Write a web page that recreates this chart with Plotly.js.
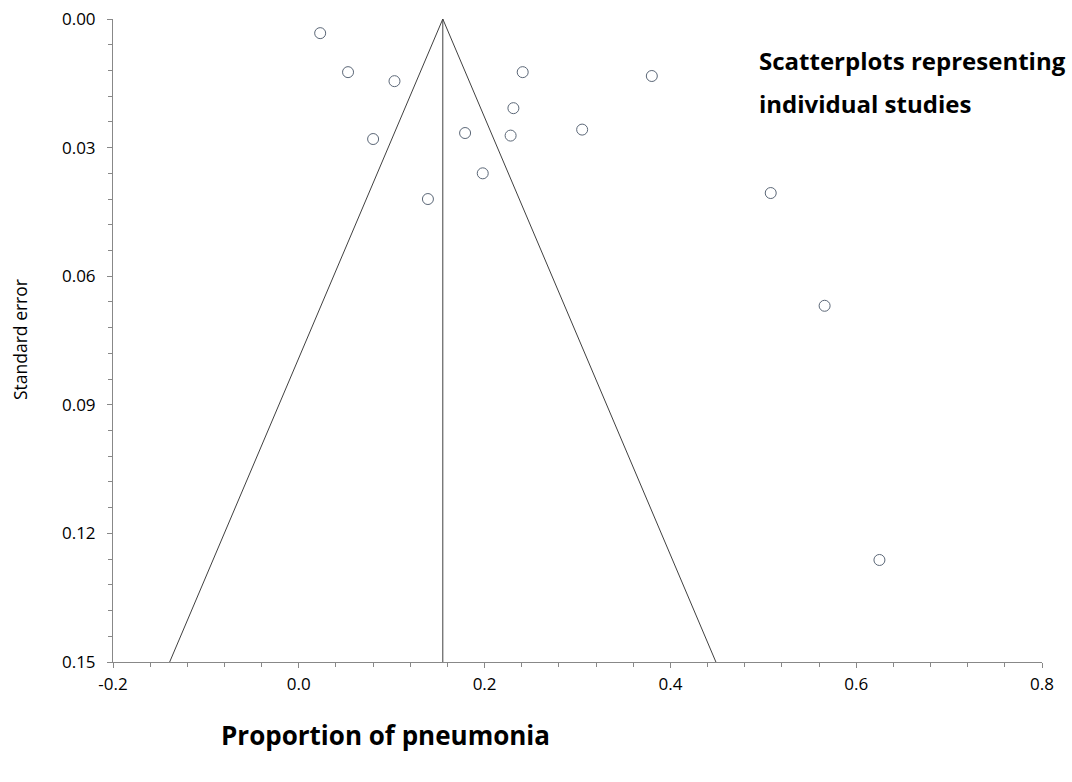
<!DOCTYPE html>
<html>
<head>
<meta charset="utf-8">
<script src="https://cdn.plot.ly/plotly-3.0.1.min.js"></script>
<style>html,body{margin:0;padding:0;background:#fff;}#chart{width:1072px;height:782px;}</style>
</head>
<body>
<div id="chart"></div>
<script>
// Study proportions (x) and standard errors (y)
const proportion = [0.023, 0.053, 0.103, 0.080, 0.139, 0.179, 0.198, 0.228, 0.231, 0.241, 0.305, 0.380, 0.508, 0.566, 0.625];
const stdError   = [0.0033, 0.0124, 0.0145, 0.0280, 0.0420, 0.0266, 0.0360, 0.0272, 0.0208, 0.0124, 0.0258, 0.0133, 0.0406, 0.0669, 0.1262];
// Pooled estimate and funnel extent
const pooled = 0.155;
const seBottom = 0.15;
const z = 1.96;
// Tick labels
const xTickVals = [-0.2, 0.0, 0.2, 0.4, 0.6, 0.8];
const xTickText = ['-0.2', '0.0', '0.2', '0.4', '0.6', '0.8'];
const yTickVals = [0.00, 0.03, 0.06, 0.09, 0.12, 0.15];
const yTickText = ['0.00', '0.03', '0.06', '0.09', '0.12', '0.15'];

const funnelX = [pooled - z * seBottom, pooled, pooled + z * seBottom];
const funnelY = [seBottom, 0, seBottom];

const font = "'Open Sans', 'Liberation Sans', sans-serif";

const traces = [
  {x: funnelX, y: funnelY, mode: 'lines', type: 'scatter',
   line: {color: '#404040', width: 1}, hoverinfo: 'skip', cliponaxis: false},
  {x: [pooled, pooled], y: [0, seBottom], mode: 'lines', type: 'scatter',
   line: {color: '#404040', width: 1}, hoverinfo: 'skip', cliponaxis: false},
  {x: proportion, y: stdError, mode: 'markers', type: 'scatter',
   marker: {symbol: 'circle', size: 11, color: '#ffffff', line: {color: '#5b6777', width: 1}},
   cliponaxis: false}
];

const layout = {
  width: 1072, height: 782,
  margin: {l: 113, r: 30, t: 19, b: 120},
  paper_bgcolor: '#ffffff', plot_bgcolor: '#ffffff',
  showlegend: false,
  font: {family: font, size: 17, color: '#000'},
  xaxis: {
    range: [-0.2, 0.8], tickmode: 'array', tickvals: xTickVals, ticktext: xTickText,
    showgrid: false, zeroline: false, showline: true, linecolor: '#888', linewidth: 1,
    ticks: 'outside', ticklen: 5, tickcolor: '#888', tickfont: {size: 17, family: font},
    ticklabelstandoff: 2,
    minor: {tickmode: 'linear', dtick: 0.04, tick0: -0.2, ticks: 'outside', ticklen: 4, tickcolor: '#888', showgrid: false}
  },
  yaxis: {
    range: [0.15, 0], tickmode: 'array', tickvals: yTickVals, ticktext: yTickText,
    showgrid: false, zeroline: false, showline: true, linecolor: '#888', linewidth: 1,
    ticks: 'outside', ticklen: 5, tickcolor: '#888', tickfont: {size: 17, family: font},
    ticklabelstandoff: 8,
    minor: {tickmode: 'linear', dtick: 0.006, tick0: 0, ticks: 'outside', ticklen: 4, tickcolor: '#888', showgrid: false}
  },
  annotations: [
    {text: 'Standard error', xref: 'paper', yref: 'paper', textangle: -90,
     x: (20 - 113) / 929, y: 1 - (340 - 19) / 643, xanchor: 'center', yanchor: 'middle',
     showarrow: false, font: {size: 17.5, family: font}},
    {text: '<b>Proportion of pneumonia</b>', xref: 'paper', yref: 'paper',
     x: (385 - 113) / 929, y: -(735 - 662) / 643, xanchor: 'center', yanchor: 'middle',
     showarrow: false, font: {size: 26, family: font}},
    {text: '<b>Scatterplots representing</b>', xref: 'paper', yref: 'paper',
     x: (757 - 113) / 929, y: 1 - (60 - 19) / 643, xanchor: 'left', yanchor: 'middle',
     showarrow: false, font: {size: 24, family: font}},
    {text: '<b>individual studies</b>', xref: 'paper', yref: 'paper',
     x: (757 - 113) / 929, y: 1 - (103 - 19) / 643, xanchor: 'left', yanchor: 'middle',
     showarrow: false, font: {size: 24, family: font}}
  ]
};

Plotly.newPlot('chart', traces, layout, {displayModeBar: false, staticPlot: true});
</script>
</body>
</html>
